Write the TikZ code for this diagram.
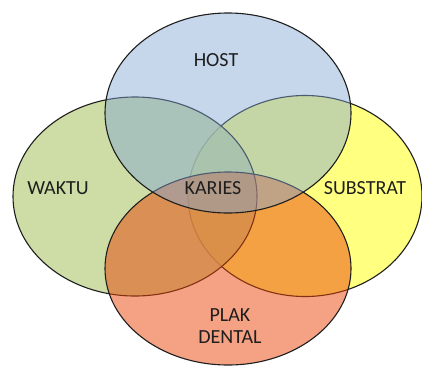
\documentclass[tikz,border=0pt]{standalone}
\usepackage{fontspec}
\setmainfont{Carlito}
\definecolor{waktuc}{RGB}{192,212,142}
\definecolor{substratc}{RGB}{255,255,128}
\definecolor{plakc}{RGB}{233,69,7}
\definecolor{hostc}{RGB}{128,166,213}
\definecolor{edgec}{RGB}{30,30,30}
\definecolor{textc}{RGB}{30,30,30}
\begin{document}
\begin{tikzpicture}[x=1pt,y=-1pt,
  setbox/.style={draw=edgec,line width=1.1pt},
  lbl/.style={text=textc,font=\fontsize{20}{22}\selectfont,align=center,inner sep=0pt}]
\useasboundingbox (0,0) rectangle (422,365);
\path[setbox,fill=substratc] (305,196) ellipse [x radius=117,y radius=100.5];
\path[setbox,fill=waktuc,fill opacity=0.8] (135,196.5) ellipse [x radius=122,y radius=99.5];
\path[setbox,fill=plakc,fill opacity=0.5] (228,268.5) ellipse [x radius=123,y radius=96.5];
\path[setbox,fill=hostc,fill opacity=0.45] (228,113) ellipse [x radius=123,y radius=100];
\node[lbl] (host) at (216,60) {HOST};
\node[lbl] (waktu) at (58,188) {WAKTU};
\node[lbl] (karies) at (213,188) {KARIES};
\node[lbl] (substrat) at (365,188) {SUBSTRAT};
\node[lbl] (plak) at (230,326) {PLAK\\DENTAL};
\end{tikzpicture}
\end{document}
